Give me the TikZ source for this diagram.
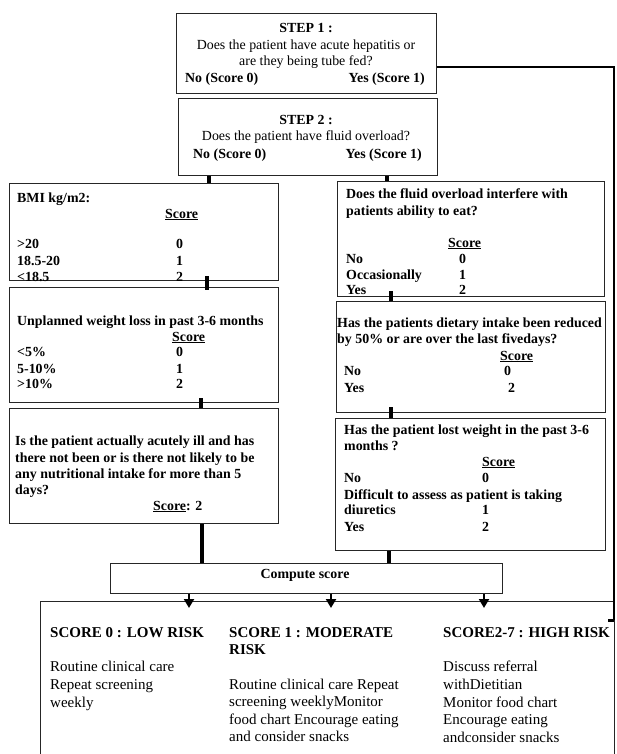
\documentclass[tikz,border=0pt]{standalone}
\usepackage{fontspec}
\setmainfont{Liberation Serif}
\usetikzlibrary{arrows.meta}
\newcommand\fa{\fontsize{13.9}{16.7}\selectfont}
\newcommand\fb{\fontsize{15}{17.5}\selectfont}
\tikzset{
  box/.style={draw=black!85, line width=1.1pt, anchor=north west, inner sep=0pt},
  tx/.style={anchor=base west, inner sep=0pt, font=\fa\bfseries},
  tr/.style={anchor=base west, inner sep=0pt, font=\fa},
  tc/.style={anchor=base, inner sep=0pt, font=\fa\bfseries},
  tcr/.style={anchor=base, inner sep=0pt, font=\fa},
  te/.style={anchor=base east, inner sep=0pt, font=\fa\bfseries},
  hb/.style={anchor=base west, inner sep=0pt, font=\fb\bfseries},
  hr/.style={anchor=base west, inner sep=0pt, font=\fb},
  bar/.style={line width=4pt, black},
  thin/.style={line width=2pt, black},
  arr/.style={line width=2pt, black, -{Triangle[width=10pt,length=9pt]}, shorten >=-7pt},
}
\begin{document}
\begin{tikzpicture}[x=1pt,y=-1pt]
\useasboundingbox (0,0) rectangle (616,754);
\clip (0,0) rectangle (616,754);
\fill[white] (0,0) rectangle (616,754);
% boxes
\node[box, minimum width=260pt, minimum height=80pt] (step1) at (176,13) {};
\node[box, minimum width=259pt, minimum height=77pt] (step2) at (178,98) {};
\node[box, minimum width=269pt, minimum height=97pt] (bmi) at (9,183) {};
\node[box, minimum width=269pt, minimum height=115pt] (wloss) at (9,287) {};
\node[box, minimum width=269pt, minimum height=115pt] (acute) at (9,408) {};
\node[box, minimum width=267pt, minimum height=115pt] (fluid) at (337,181) {};
\node[box, minimum width=269pt, minimum height=111pt] (diet) at (336,301) {};
\node[box, minimum width=270pt, minimum height=132pt] (lost) at (335,418) {};
\node[box, minimum width=392pt, minimum height=30pt] (compute) at (110,563) {};
\node[box, minimum width=574pt, minimum height=199pt] (bottom) at (40,601) {};

% step 1 text
\node[tc] (s1t) at (306,33) {STEP 1 :};
\node[tcr] (s1a) at (306,49.5) {Does the patient have acute hepatitis or};
\node[tcr] (s1b) at (306,65.5) {are they being tube fed?};
\node[tx] (s1n) at (185,82.5) {No (Score 0)};
\node[te] (s1y) at (425,82.5) {Yes (Score 1)};
% step 2 text
\node[tc] (s2t) at (306,125) {STEP 2 :};
\node[tcr] (s2a) at (306,141) {Does the patient have fluid overload?};
\node[tx] (s2n) at (193,159) {No (Score 0)};
\node[te] (s2y) at (422,159) {Yes (Score 1)};
% BMI
\node[tx] (b1) at (17,202) {BMI kg/m2:};
\node[tx] (b2) at (165,218) {\underline{Score}};
\node[tx] (b3) at (17,248) {>20};
\node[tx] (b3s) at (176,248) {0};
\node[tx] (b4) at (17,265) {18.5-20};
\node[tx] (b4s) at (176,265) {1};
\node[tx] (b5) at (17,281) {<18.5};
\node[tx] (b5s) at (176,281) {2};
% weight loss
\node[tx] (w1) at (17,325) {Unplanned weight loss in past 3-6 months};
\node[tx] (w2) at (172,341) {\underline{Score}};
\node[tx] (w3) at (17,356) {<5\%};
\node[tx] (w3s) at (176,356) {0};
\node[tx] (w4) at (17,373) {5-10\%};
\node[tx] (w4s) at (176,373) {1};
\node[tx] (w5) at (17,388) {>10\%};
\node[tx] (w5s) at (176,388) {2};
% acute
\node[tx] (a1) at (15,445) {Is the patient actually acutely ill and has};
\node[tx] (a2) at (15,462) {there not been or is there not likely to be};
\node[tx] (a3) at (15,478) {any nutritional intake for more than 5};
\node[tx] (a4) at (15,494) {days?};
\node[tx] (a5) at (153,510) {\underline{Score}: 2};
% fluid
\node[tx] (f1) at (346,198) {Does the fluid overload interfere with};
\node[tx] (f2) at (346,215) {patients ability to eat?};
\node[tx] (f3) at (448,247) {\underline{Score}};
\node[tx] (f4) at (346,263) {No};
\node[tx] (f4s) at (459,263) {0};
\node[tx] (f5) at (346,279) {Occasionally};
\node[tx] (f5s) at (459,279) {1};
\node[tx] (f6) at (346,294) {Yes};
\node[tx] (f6s) at (459,294) {2};
% diet
\node[tx] (d1) at (337,327) {Has the patients dietary intake been reduced};
\node[tx] (d2) at (337,343) {by 50\% or are over the last fivedays?};
\node[tx] (d3) at (500,360) {\underline{Score}};
\node[tx] (d4) at (344,375) {No};
\node[tx] (d4s) at (504,375) {0};
\node[tx] (d5) at (344,392) {Yes};
\node[tx] (d5s) at (508,392) {2};
% lost
\node[tx] (l1) at (344,434) {Has the patient lost weight in the past 3-6};
\node[tx] (l2) at (344,450) {months ?};
\node[tx] (l3) at (482,466) {\underline{Score}};
\node[tx] (l4) at (344,482) {No};
\node[tx] (l4s) at (482,482) {0};
\node[tx] (l5) at (344,499) {Difficult to assess as patient is taking};
\node[tx] (l6) at (344,514) {diuretics};
\node[tx] (l6s) at (482,514) {1};
\node[tx] (l7) at (344,531) {Yes};
\node[tx] (l7s) at (482,531) {2};
% compute
\node[tc] (cs) at (305,578) {Compute score};
% bottom
\node[hb] (h1) at (50,637) {SCORE 0 : LOW RISK};
\node[hb] (h2) at (229,637) {SCORE 1 : MODERATE};
\node[hb] (h2b) at (229,654) {RISK};
\node[hb] (h3) at (443,637) {SCORE2-7 : HIGH RISK};
\node[hr] (c11) at (50,671) {Routine clinical care};
\node[hr] (c12) at (50,689) {Repeat screening};
\node[hr] (c13) at (50,707) {weekly};
\node[hr] (c21) at (229,689) {Routine clinical care Repeat};
\node[hr] (c22) at (229,706) {screening weeklyMonitor};
\node[hr] (c23) at (229,724) {food chart Encourage eating};
\node[hr] (c24) at (229,741) {and consider snacks};
\node[hr] (c31) at (443,671) {Discuss referral};
\node[hr] (c32) at (443,689) {withDietitian};
\node[hr] (c33) at (443,707) {Monitor food chart};
\node[hr] (c34) at (443,724) {Encourage eating};
\node[hr] (c35) at (443,742) {andconsider snacks};

% connectors
\draw[bar] (step2.south -| 209,0) -- (bmi.north -| 209,0);
\draw[bar] (step2.south -| 387,0) -- (fluid.north -| 387,0);
\draw[bar] ([yshift=5pt]bmi.south -| 207,0) -- ([yshift=-3pt]wloss.north -| 207,0);
\draw[bar] ([yshift=5pt]wloss.south -| 201,0) -- (acute.north -| 201,0);
\draw[bar] ([yshift=6pt]fluid.south -| 391,0) -- (diet.north -| 391,0);
\draw[bar] ([yshift=6pt]diet.south -| 391,0) -- (lost.north -| 391,0);
\draw[line width=3.5pt] (acute.south -| 202,0) -- (compute.north -| 202,0);
\draw[line width=3.5pt] (lost.south -| 389,0) -- (compute.north -| 389,0);
\draw[arr] (compute.south -| 189,0) -- (bottom.north -| 189,0);
\draw[arr] (compute.south -| 331,0) -- (bottom.north -| 331,0);
\draw[arr] (compute.south -| 484,0) -- (bottom.north -| 484,0);
\coordinate (rtop) at (614,67);
\coordinate (rbot) at (614,620);
\coordinate (rtick) at (608,620);
\draw[thin] (step1.east |- rtop) -- (rtop) -- (rbot);
\draw[line width=3pt] (rbot) -- (rtick);
\end{tikzpicture}
\end{document}
